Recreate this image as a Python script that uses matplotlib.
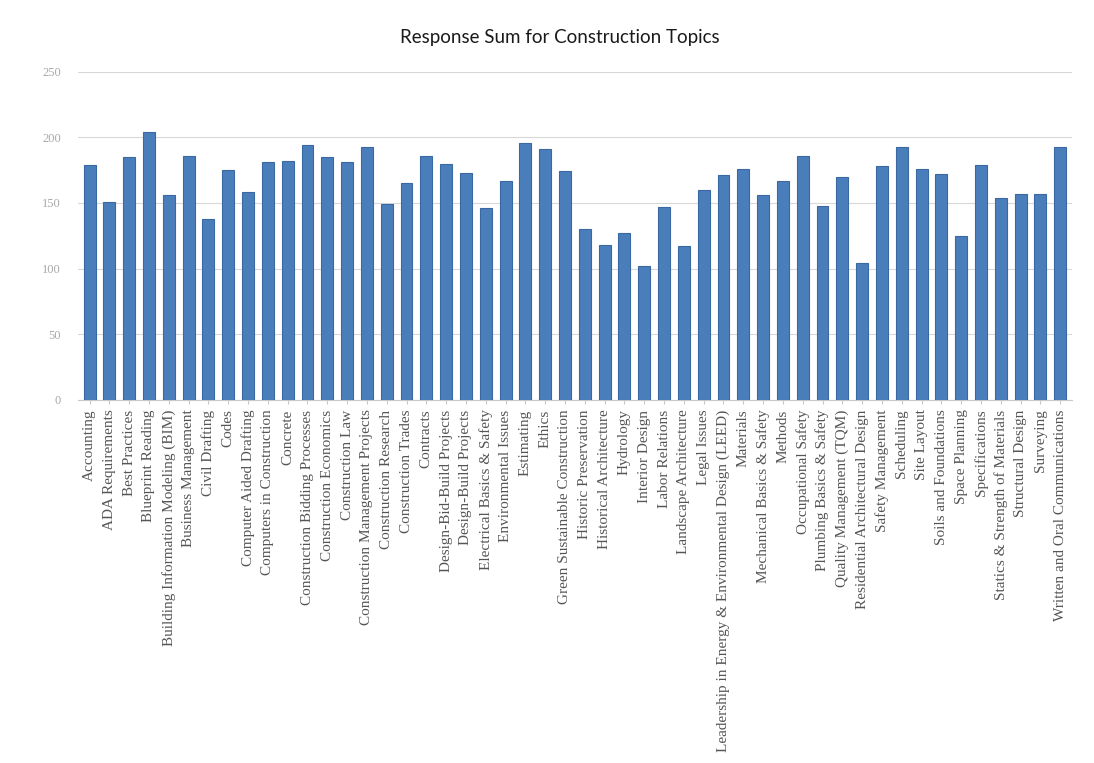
import matplotlib
matplotlib.use('Agg')
import matplotlib.pyplot as plt
import numpy as np

topics = [
    "Accounting", "ADA Requirements", "Best Practices", "Blueprint Reading",
    "Building Information Modeling (BIM)", "Business Management", "Civil Drafting",
    "Codes", "Computer Aided Drafting", "Computers in Construction", "Concrete",
    "Construction Bidding Processes", "Construction Economics", "Construction Law",
    "Construction Management Projects", "Construction Research", "Construction Trades",
    "Contracts", "Design-Bid-Build Projects", "Design-Build Projects",
    "Electrical Basics & Safety", "Environmental Issues", "Estimating", "Ethics",
    "Green Sustainable Construction", "Historic Preservation", "Historical Architecture",
    "Hydrology", "Interior Design", "Labor Relations", "Landscape Architecture",
    "Legal Issues", "Leadership in Energy & Environmental Design (LEED)", "Materials",
    "Mechanical Basics & Safety", "Methods", "Occupational Safety",
    "Plumbing Basics & Safety", "Quality Management (TQM)",
    "Residential Architectural Design", "Safety Management", "Scheduling",
    "Site Layout", "Soils and Foundations", "Space Planning", "Specifications",
    "Statics & Strength of Materials", "Structural Design", "Surveying",
    "Written and Oral Communications",
]
response_sum = [
    179, 151, 185, 204, 156, 186, 138, 175, 158, 181,
    182, 194, 185, 181, 193, 149, 165, 186, 180, 173,
    146, 167, 196, 191, 174, 130, 118, 127, 102, 147,
    117, 160, 171, 176, 156, 167, 186, 148, 170, 104,
    178, 193, 176, 172, 125, 179, 154, 157, 157, 193,
]
y_ticks = [0, 50, 100, 150, 200, 250]

fig = plt.figure(figsize=(10.94, 7.63), dpi=100)
ax = fig.add_axes([0.071, 0.476, 0.909, 0.43])

x = np.arange(len(topics))
ax.bar(x, response_sum, width=0.6, color='#4a7ebb', edgecolor='#3a68a3',
       linewidth=0.8, zorder=3)

ax.set_xlim(-0.6, len(topics) - 0.4)
ax.set_ylim(0, 250)
ax.set_yticks(y_ticks)
ax.yaxis.grid(True, color='#d8d8d8', linewidth=0.8, zorder=0)
ax.tick_params(axis='y', length=0, labelsize=9, labelcolor='#a8a8a8', pad=12)
ax.set_yticklabels([str(v) for v in y_ticks], family='Liberation Serif')

ax.set_xticks(x)
ax.set_xticklabels(topics, rotation=90, family='Liberation Serif', fontsize=11,
                   color='#555555')
ax.tick_params(axis='x', length=3, color='#c8c8c8', pad=4)

for side in ['top', 'right', 'left']:
    ax.spines[side].set_visible(False)
ax.spines['bottom'].set_color('#c8c8c8')

fig.text(0.512, 0.951, "Response Sum for Construction Topics", ha='center',
         va='center', fontsize=13.5, family='Lato', color='#1a1a1a')

fig.savefig('out.png', dpi=100)
